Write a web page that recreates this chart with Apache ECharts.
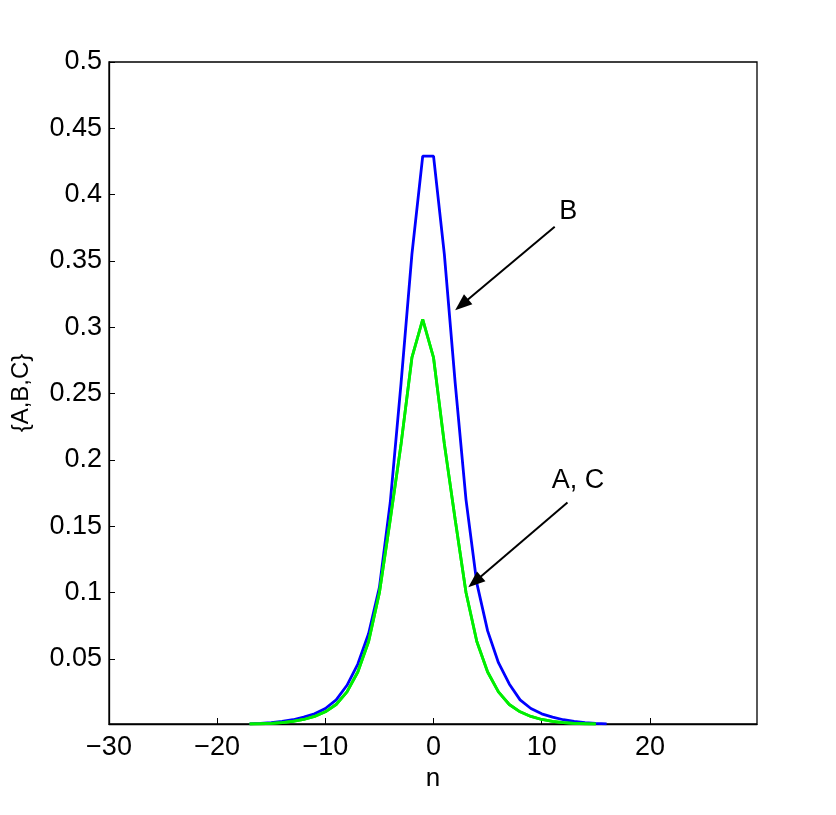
<!DOCTYPE html>
<html>
<head>
<meta charset="utf-8">
<script src="https://cdn.jsdelivr.net/npm/echarts@6/dist/echarts.min.js"></script>
<style>
  html, body { margin: 0; padding: 0; background: #fff; }
  #chart { width: 836px; height: 815px; }
</style>
</head>
<body>
<div id="chart"></div>
<script>
// n 取值（B 曲线）
const nB = [-17, -16, -15, -14, -13, -12, -11, -10, -9, -8, -7, -6, -5, -4, -3, -2, -1,
  0, 1, 2, 3, 4, 5, 6, 7, 8, 9, 10, 11, 12, 13, 14, 15, 16];
const valuesB = [0.0009, 0.0013, 0.0019, 0.0028, 0.0040, 0.0060, 0.0085, 0.0125, 0.019, 0.030,
  0.046, 0.069, 0.104, 0.168, 0.258, 0.355, 0.429,
  0.429, 0.355, 0.258, 0.170, 0.107, 0.071, 0.047, 0.031, 0.019, 0.0125, 0.0085,
  0.0060, 0.0040, 0.0028, 0.0019, 0.0013, 0.0009];

// n 取值（A、C 曲线，两者重合）
const nAC = [-17, -16, -15, -14, -13, -12, -11, -10, -9, -8, -7, -6, -5, -4, -3, -2, -1,
  0, 1, 2, 3, 4, 5, 6, 7, 8, 9, 10, 11, 12, 13, 14, 15];
const valuesAC = [0.0008, 0.0010, 0.0013, 0.0019, 0.0028, 0.0042, 0.0065, 0.0100, 0.0155,
  0.025, 0.040, 0.063, 0.100, 0.155, 0.212, 0.277, 0.306,
  0.277, 0.212, 0.155, 0.100, 0.063, 0.040, 0.025, 0.0155, 0.0100, 0.0065, 0.0042,
  0.0028, 0.0019, 0.0013, 0.0010, 0.0008];

// 刻度
const xTicks = [-30, -20, -10, 0, 10, 20];
const yTicks = [0.05, 0.1, 0.15, 0.2, 0.25, 0.3, 0.35, 0.4, 0.45, 0.5];

const font = "'Liberation Sans', Arial, Helvetica, sans-serif";
const pairs = (xs, ys) => xs.map((x, i) => [x, ys[i]]);

const arrowLine = {
  symbol: ["none", "triangle"],
  symbolSize: [13, 17],
  silent: true,
  label: { show: false },
  lineStyle: { color: "#000", width: 2, type: "solid" },
  emphasis: { disabled: true },
};
const textPoint = {
  symbol: "circle",
  symbolSize: 0,
  silent: true,
  label: {
    show: true,
    position: "inside",
    color: "#000",
    fontSize: 27,
    fontFamily: font,
    formatter: (p) => p.name,
  },
};

const chart = echarts.init(document.getElementById("chart"));
chart.setOption({
  animation: false,
  backgroundColor: "#fff",
  grid: {
    left: 109, right: 79, top: 62, bottom: 91,
    show: true, borderColor: "#000", borderWidth: 1.3,
  },
  xAxis: {
    type: "value",
    min: -30,
    max: 29.9,
    name: "n",
    nameLocation: "middle",
    nameGap: 40,
    nameTextStyle: { fontSize: 26, fontFamily: font, color: "#000" },
    axisLine: { onZero: false, lineStyle: { color: "#000", width: 1.3 } },
    axisTick: { inside: true, length: 6, customValues: xTicks, lineStyle: { color: "#000" } },
    axisLabel: {
      customValues: xTicks,
      margin: 10,
      fontSize: 27,
      fontFamily: font,
      color: "#000",
      formatter: (v) => String(v).replace("-", "\u2212"),
    },
    splitLine: { show: false },
  },
  yAxis: {
    type: "value",
    min: 0.0008,
    max: 0.5,
    name: "{A,B,C}",
    nameLocation: "middle",
    nameGap: 76,
    nameRotate: 90,
    nameTextStyle: { fontSize: 24, fontFamily: font, color: "#000" },
    axisLine: { onZero: false, lineStyle: { color: "#000", width: 1.3 } },
    axisTick: { inside: true, length: 6, customValues: yTicks, lineStyle: { color: "#000" } },
    axisLabel: {
      customValues: yTicks,
      margin: 7,
      fontSize: 27,
      fontFamily: font,
      color: "#000",
      formatter: (v) => String(+v.toFixed(2)),
    },
    splitLine: { show: false },
  },
  series: [
    {
      name: "B",
      type: "line",
      data: pairs(nB, valuesB),
      symbol: "none",
      lineStyle: { color: "#0000ff", width: 2.8 },
      z: 2,
      markLine: Object.assign({}, arrowLine, {
        data: [[{ coord: [11.2, 0.3758] }, { coord: [2.6, 0.3169] }]],
      }),
      markPoint: Object.assign({}, textPoint, {
        data: [{ name: "B", coord: [12.45, 0.3869] }],
      }),
    },
    {
      name: "A",
      type: "line",
      data: pairs(nAC, valuesAC),
      symbol: "none",
      lineStyle: { color: "#00ee00", width: 2.8 },
      z: 3,
    },
    {
      name: "C",
      type: "line",
      data: pairs(nAC, valuesAC),
      symbol: "none",
      lineStyle: { color: "#00ee00", width: 2.8 },
      z: 4,
      markLine: Object.assign({}, arrowLine, {
        data: [[{ coord: [12.38, 0.1678] }, { coord: [3.81, 0.108] }]],
      }),
      markPoint: Object.assign({}, textPoint, {
        data: [{ name: "A, C", coord: [13.36, 0.1843] }],
      }),
    },
  ],
});
</script>
</body>
</html>
